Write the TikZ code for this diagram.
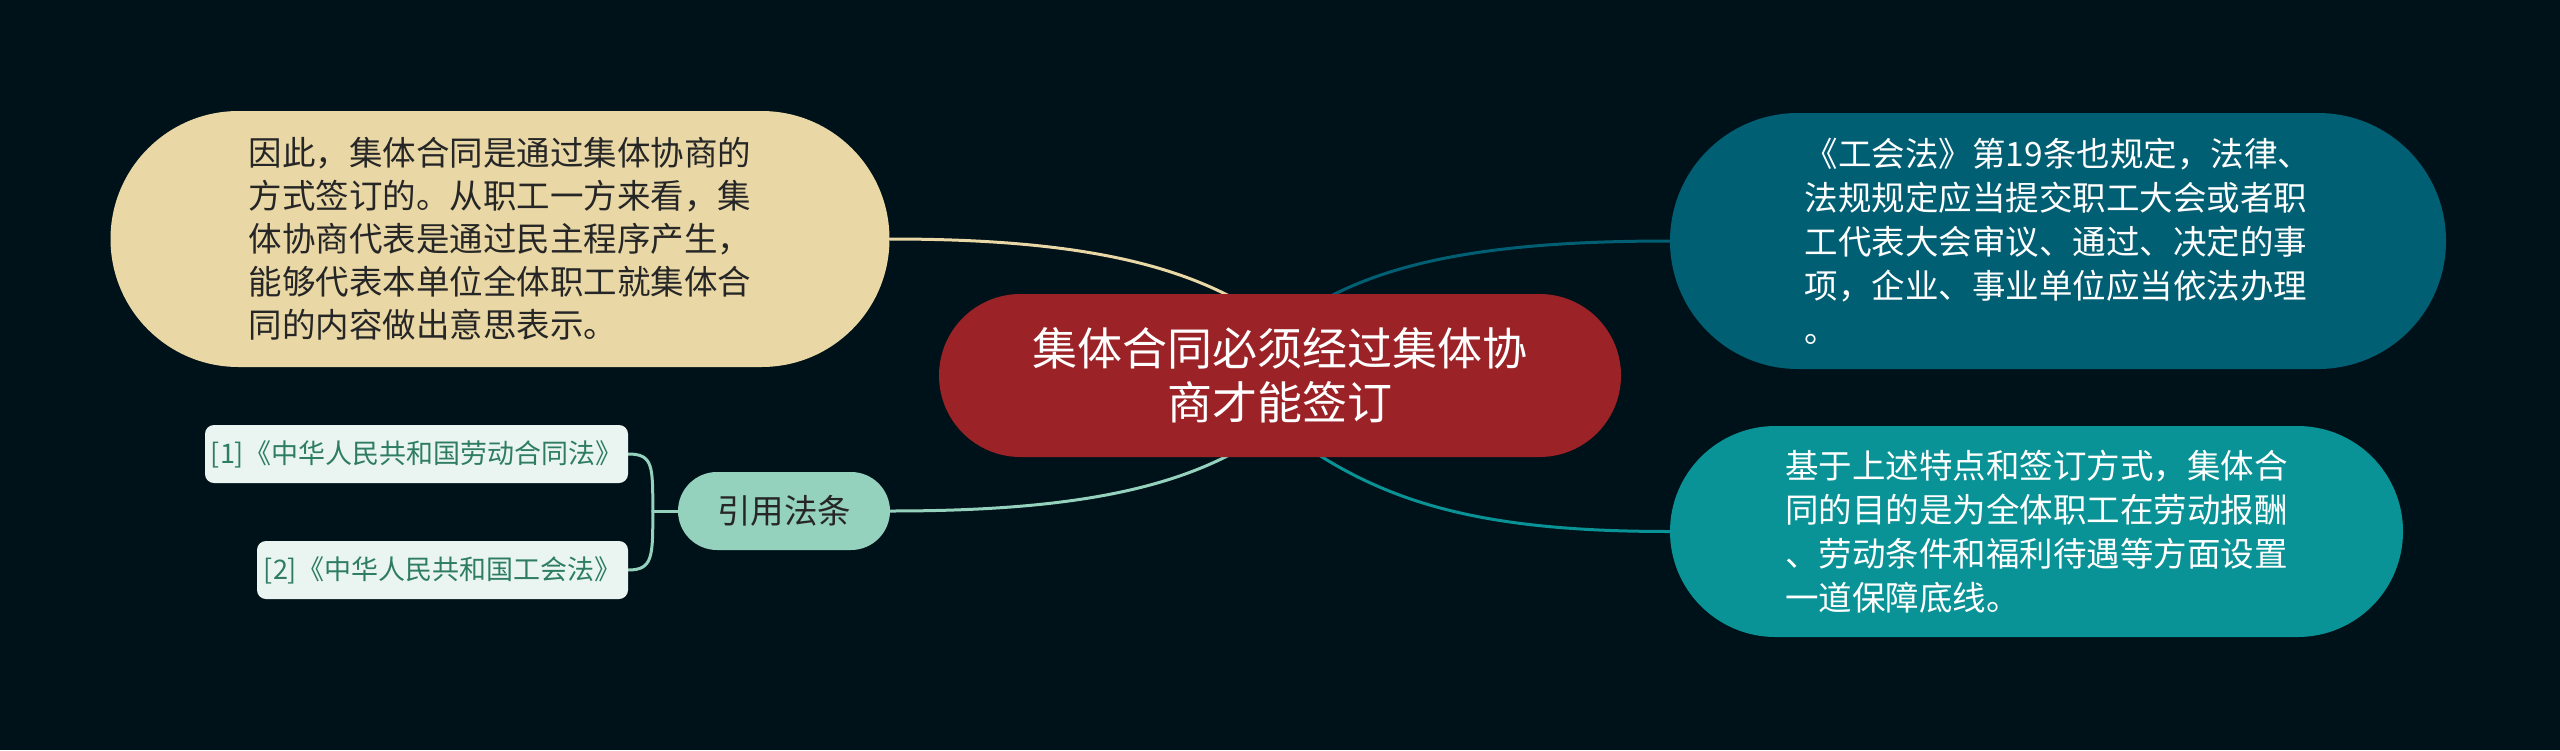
\documentclass[tikz,border=0pt]{standalone}
\usepackage{fontspec}
\setmainfont{Noto Sans CJK SC}
\usetikzlibrary{shapes.misc,calc}
\definecolor{bgc}{HTML}{001219}
\definecolor{redc}{HTML}{9B2226}
\definecolor{sandc}{HTML}{E9D8A6}
\definecolor{deepteal}{HTML}{005F73}
\definecolor{teal}{HTML}{0A9396}
\definecolor{mint}{HTML}{94D2BD}
\definecolor{palemint}{HTML}{EAF5F1}
\definecolor{citetext}{HTML}{2E7D63}
\definecolor{darktext}{HTML}{262626}
\pgfdeclarelayer{bglayer}
\pgfdeclarelayer{edgelayer}
\pgfsetlayers{bglayer,edgelayer,main}
\begin{document}
\begin{tikzpicture}[x=1pt,y=-1pt,
  pill/.style={rounded rectangle, inner sep=0pt, align=left},
  bodyfont/.style={font=\fontsize{33.5}{44}\selectfont},
  citebox/.style={rectangle, rounded corners=9pt, fill=palemint, text=citetext,
    inner sep=0pt, minimum height=58, font=\fontsize{27}{32}\selectfont},
  link/.style={line width=3pt, line cap=round}
]
\useasboundingbox (0,0) rectangle (2560,750);
\begin{pgfonlayer}{bglayer}
\fill[bgc] (0,0) rectangle (2560,750);
\end{pgfonlayer}

\node[pill, fill=redc, text=white, align=center, minimum width=682, minimum height=163,
  font=\fontsize{45}{54}\selectfont] (center) at (1280,375.5)
  {集体合同必须经过集体协\\商才能签订};

\node[pill, fill=sandc, text=darktext, bodyfont, minimum width=779, minimum height=256,
  font=\fontsize{33.5}{43}\selectfont] (left) at (500,239)
  {因此，集体合同是通过集体协商的\\方式签订的。从职工一方来看，集\\体协商代表是通过民主程序产生，\\能够代表本单位全体职工就集体合\\同的内容做出意思表示。};

\node[pill, fill=deepteal, text=white, bodyfont, minimum width=776, minimum height=256]
  (tr) at (2058,241)
  {《工会法》第19条也规定，法律、\\法规规定应当提交职工大会或者职\\工代表大会审议、通过、决定的事\\项，企业、事业单位应当依法办理\\。};

\node[pill, fill=teal, text=white, bodyfont, minimum width=733, minimum height=211]
  (br) at (2036.5,531.5)
  {基于上述特点和签订方式，集体合\\同的目的是为全体职工在劳动报酬\\、劳动条件和福利待遇等方面设置\\一道保障底线。};

\node[pill, fill=mint, text=darktext, bodyfont, minimum width=212, minimum height=78]
  (cite) at (784,511) {引用法条};

\node[citebox, minimum width=423] (c1) at (416.5,454) {[1]《中华人民共和国劳动合同法》};
\node[citebox, minimum width=371] (c2) at (442.5,570) {[2]《中华人民共和国工会法》};

\coordinate (j) at ($(cite.west)+(-25,0)$);

\begin{pgfonlayer}{edgelayer}
\draw[link, sandc] (left.east) .. controls +(160,0) and +(-80,-45) .. ($(center.north)+(-40,8)$);
\draw[link, deepteal] (tr.west) .. controls +(-160,0) and +(80,-45) .. ($(center.north)+(40,8)$);
\draw[link, mint] (cite.east) .. controls +(160,0) and +(-80,45) .. ($(center.south)+(-40,-8)$);
\draw[link, teal] (br.west) .. controls +(-170,0) and +(90,60) .. ($(center.south)+(30,-8)$);
\draw[link, mint] (cite.west) -- (j);
\draw[link, mint] (j) .. controls +(0,-45) and +(25,0) .. (c1.east);
\draw[link, mint] (j) .. controls +(0,45) and +(25,0) .. (c2.east);
\end{pgfonlayer}
\end{tikzpicture}
\end{document}
